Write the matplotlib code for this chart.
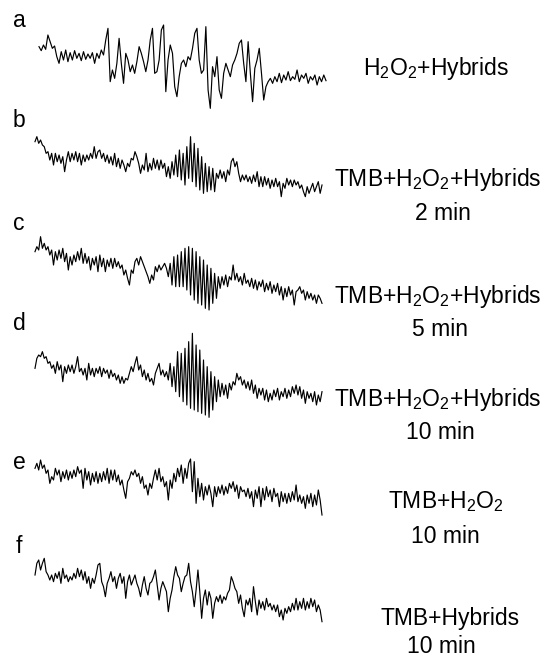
import numpy as np
import matplotlib
matplotlib.use('Agg')
import matplotlib.pyplot as plt

plt.rcParams['font.family'] = ['Liberation Sans', 'DejaVu Sans']
plt.rcParams['mathtext.fontset'] = 'custom'
plt.rcParams['mathtext.rm'] = 'Liberation Sans'

# señales (unidades arbitrarias, arriba = positivo)
trace_a = [190, 178, 195, 182, 225, 205, 185, 192, 160, 140,
           175, 150, 180, 145, 172, 150, 178, 155, 170, 148,
           175, 152, 168, 155, 172, 140, 170, 155, 180, 165,
           210, 245, 85, 120, 95, 140, 215, 140, 80, 170,
           150, 115, 135, 110, 145, 190, 170, 145, 115, 150,
           210, 245, 110, 115, 150, 240, 255, 55, 150, 195,
           170, 70, 40, 100, 140, 150, 130, 160, 150, 185,
           230, 245, 150, 110, 120, 250, 60, 5, 130, 100,
           160, 60, 35, 110, 140, 120, 100, 135, 150, 170,
           200, 210, 140, 85, 205, 110, 25, 125, 150, 185,
           110, 30, 70, 85, 95, 80, 100, 85, 110, 82,
           105, 90, 115, 88, 100, 92, 120, 85, 105, 95,
           110, 80, 100, 90, 105, 75, 100, 85, 105, 88]

trace_b = [235, 250, 230, 240, 225, 220, 200, 205, 180, 200,
           165, 200, 175, 195, 170, 190, 145, 180, 205, 175,
           200, 180, 205, 175, 200, 165, 195, 175, 195, 180,
           200, 185, 220, 185, 205, 210, 185, 200, 175, 195,
           170, 190, 165, 200, 160, 185, 155, 180, 165, 145,
           170, 160, 185, 180, 205, 190, 170, 140, 165, 150,
           200, 145, 170, 150, 185, 155, 180, 150, 180, 155,
           170, 130, 160, 125, 175, 135, 195, 130, 210, 120,
           200, 105, 220, 125, 250, 115, 230, 100, 215, 90,
           190, 80, 170, 85, 160, 90, 155, 85, 140, 125,
           150, 125, 145, 115, 150, 135, 175, 185, 160, 175,
           140, 115, 135, 120, 135, 115, 130, 110, 135, 115,
           145, 100, 130, 100, 130, 105, 125, 95, 120, 100,
           125, 100, 115, 70, 110, 95, 125, 105, 120, 100,
           120, 105, 115, 95, 105, 85, 70, 100, 80, 95,
           110, 85, 100, 115, 80, 105]

trace_c = [190, 205, 195, 235, 200, 215, 195, 205, 180, 195,
           150, 190, 165, 195, 170, 200, 160, 185, 135, 175,
           150, 180, 160, 190, 165, 200, 155, 185, 155, 175,
           135, 170, 150, 175, 130, 180, 145, 170, 130, 165,
           145, 170, 140, 170, 145, 160, 140, 150, 120, 135,
           110, 90, 135, 125, 160, 170, 150, 175, 160, 145,
           130, 115, 95, 120, 105, 145, 130, 150, 135, 145,
           155, 140, 115, 155, 90, 175, 85, 180, 85, 190,
           85, 200, 75, 205, 60, 200, 45, 190, 35, 175,
           30, 165, 20, 150, 15, 140, 35, 125, 50, 115,
           80, 115, 90, 120, 85, 115, 105, 150, 105, 125,
           100, 115, 90, 125, 95, 105, 85, 110, 80, 105,
           75, 100, 85, 105, 70, 95, 75, 100, 65, 90,
           70, 95, 60, 85, 45, 80, 55, 85, 60, 75,
           30, 70, 75, 85, 65, 75, 45, 70, 50, 65,
           45, 60, 35, 60, 50, 35]

trace_d = [185, 215, 225, 220, 235, 215, 220, 200, 205, 185,
           195, 170, 205, 180, 195, 145, 190, 170, 195, 175,
           195, 170, 190, 220, 175, 185, 165, 185, 150, 200,
           165, 185, 160, 185, 170, 190, 160, 185, 170, 180,
           155, 180, 160, 170, 150, 165, 140, 160, 140, 155,
           150, 170, 190, 175, 200, 220, 180, 195, 160, 180,
           150, 170, 145, 155, 135, 170, 185, 200, 165, 180,
           160, 175, 150, 200, 130, 190, 115, 235, 100, 230,
           85, 245, 75, 265, 65, 290, 60, 255, 55, 240,
           50, 210, 45, 190, 38, 175, 60, 160, 85, 150,
           100, 140, 105, 135, 95, 140, 120, 145, 135, 170,
           150, 160, 135, 150, 125, 145, 120, 150, 110, 135,
           95, 125, 105, 125, 90, 120, 85, 110, 90, 120,
           100, 125, 90, 115, 100, 125, 95, 120, 100, 130,
           110, 135, 105, 130, 95, 120, 80, 115, 95, 110,
           85, 115, 75, 105, 85, 115]

trace_e = [260, 275, 255, 285, 260, 270, 245, 255, 215, 235,
           225, 260, 240, 255, 220, 250, 230, 255, 225, 250,
           230, 255, 235, 265, 245, 255, 200, 260, 225, 250,
           210, 245, 220, 250, 215, 245, 220, 250, 225, 260,
           215, 255, 225, 255, 220, 240, 210, 225, 195, 170,
           220, 230, 250, 240, 255, 235, 245, 215, 235, 200,
           210, 180, 215, 200, 230, 255, 225, 260, 220, 235,
           205, 220, 165, 225, 200, 245, 220, 260, 235, 270,
           215, 260, 230, 275, 288, 190, 280, 155, 230, 175,
           215, 165, 205, 180, 210, 185, 145, 205, 175, 205,
           185, 210, 180, 205, 185, 215, 200, 220, 190, 210,
           170, 205, 190, 195, 175, 200, 170, 190, 145, 195,
           170, 205, 145, 200, 165, 205, 175, 195, 160, 200,
           175, 185, 145, 190, 160, 185, 155, 185, 160, 190,
           165, 210, 160, 180, 155, 175, 140, 180, 155, 185,
           145, 180, 150, 195, 165, 120]

trace_f = [210, 245, 255, 225, 245, 260, 220, 210, 195, 210,
           190, 215, 200, 220, 185, 230, 200, 210, 190, 205,
           195, 215, 200, 230, 205, 225, 195, 220, 185, 205,
           170, 200, 185, 210, 240, 245, 190, 175, 145, 185,
           200, 220, 190, 205, 170, 200, 215, 185, 205, 140,
           190, 210, 180, 195, 210, 185, 170, 145, 180, 205,
           170, 150, 185, 190, 205, 225, 180, 135, 170, 190,
           175, 160, 100, 140, 165, 205, 235, 210, 200, 160,
           185, 205, 210, 245, 190, 160, 115, 165, 225, 160,
           80, 140, 165, 120, 160, 140, 80, 125, 145, 130,
           150, 125, 145, 135, 155, 165, 205, 190, 170, 160,
           125, 150, 110, 85, 135, 120, 140, 100, 175, 130,
           90, 135, 110, 130, 105, 140, 115, 125, 105, 120,
           100, 120, 85, 105, 75, 110, 95, 115, 100, 125,
           105, 140, 105, 130, 110, 140, 105, 130, 110, 140,
           115, 135, 100, 120, 105, 70]

panel_letters = ['a', 'b', 'c', 'd', 'e', 'f']
sample_labels = [r'H$_\mathregular{2}$O$_\mathregular{2}$+Hybrids',
                 r'TMB+H$_\mathregular{2}$O$_\mathregular{2}$+Hybrids',
                 r'TMB+H$_\mathregular{2}$O$_\mathregular{2}$+Hybrids',
                 r'TMB+H$_\mathregular{2}$O$_\mathregular{2}$+Hybrids',
                 r'TMB+H$_\mathregular{2}$O$_\mathregular{2}$',
                 'TMB+Hybrids']
times = ['', '2 min', '5 min', '10 min', '10 min', '10 min']

trazas = [trace_a, trace_b, trace_c, trace_d, trace_e, trace_f]

W, H = 552, 657
fig = plt.figure(figsize=(W / 100, H / 100), dpi=100)
ax = fig.add_axes([0, 0, 1, 1])
ax.set_xlim(0, W)
ax.set_ylim(0, H)
ax.axis('off')

# disposición (px desde arriba)
bases = [547, 437, 342, 227, 102, 12]
x_ini = [39, 35, 35, 35, 35, 35]
x_fin = [326, 322, 322, 322, 322, 322]
letra_y = [27, 127, 230, 330, 469, 553]
label_pos = [(436, 75), (438, 186), (438, 303), (438, 406), (446, 508), (450, 625)]
time_pos = [None, (443, 220), (440, 336), (440, 439), (445, 543), (441, 653)]

for i, tr in enumerate(trazas):
    v = np.array(tr, dtype=float)
    x = np.linspace(x_ini[i], x_fin[i], len(v))
    ax.plot(x, bases[i] + v / 3.0, color='black', linewidth=0.85)
    ax.text(19, H - letra_y[i], panel_letters[i], fontsize=16.5,
            ha='center', va='baseline')
    lx, ly = label_pos[i]
    ax.text(lx, H - ly, sample_labels[i], fontsize=16.5, ha='center', va='baseline')
    if time_pos[i] is not None:
        tx, ty = time_pos[i]
        ax.text(tx, H - ty, times[i], fontsize=16.5, ha='center', va='baseline')

fig.savefig('out.png', dpi=100)
